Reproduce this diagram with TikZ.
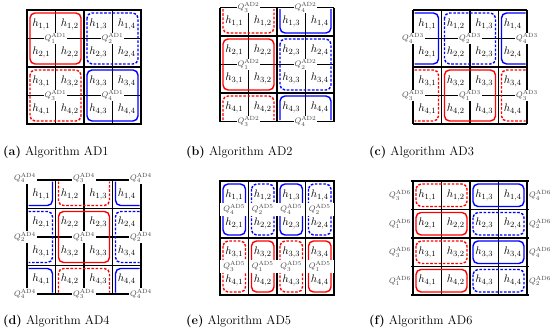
\documentclass[tikz,border=0pt]{standalone}
\usepackage{amsmath}
\usepackage{fontspec}
\newcommand\hcells[3]{\foreach \i in {1,...,4}{\foreach \j in {1,...,4}{\node[hlab] (#1h\i\j) at ({#2+(\j-0.5)*28.5},{#3+(\i-0.5)*28.5}) {$h_{\i,\j}$};}}}
\newcommand\mkq[5]{\node[qlab] (#1) at (#2,#3) {$Q_{#4}^{\mathrm{#5}}$};}
\newcommand\mkqe[5]{\node[qlab,minimum width=28pt,inner ysep=2pt] (#1) at (#2,#3) {$Q_{#4}^{\mathrm{#5}}$};}
\begin{document}
\begin{tikzpicture}[x=1pt,y=-1pt,
 blk/.style={line width=1.7pt,black},
 crs/.style={line width=1.3pt,black},
 thn/.style={line width=1.2pt,black},
 qlab/.style={fill=white,inner sep=1pt,text=black!72,font=\fontsize{8}{9.5}\selectfont},
 qout/.style={inner sep=0.5pt,text=black!72,font=\fontsize{8}{9.5}\selectfont},
 hlab/.style={inner sep=0pt,font=\fontsize{11}{13}\selectfont},
 col/.style={line width=1.4pt,rounded corners=5pt},
 rs/.style={col,draw=red},
 rd/.style={col,draw=red,dash pattern=on 2.6pt off 1.6pt},
 bs/.style={col,draw=blue},
 bd/.style={col,draw=blue,dash pattern=on 2.6pt off 1.6pt},
 capt/.style={anchor=base west,inner sep=0pt,font=\fontsize{12.5}{15}\selectfont}]
\useasboundingbox[fill=white] (0,0) rectangle (550,330);

% ---------- (a) ----------
\draw[crs] (55.5,10)--(55.5,124) (112.5,10)--(112.5,124) (27,38.5)--(141,38.5) (27,95.5)--(141,95.5);
\draw[blk] (27,10) rectangle (141,124) (84,10)--(84,124) (27,67)--(141,67);
\draw[rs] (30,13) rectangle (81,64);
\draw[bd] (87,13) rectangle (138,64);
\draw[rd] (30,70) rectangle (81,121);
\draw[bs] (87,70) rectangle (138,121);
\hcells{a}{27}{10}
\mkq{aq1}{55.5}{38.5}{1}{AD1}
\mkq{aq2}{112.5}{38.5}{2}{AD1}
\mkq{aq3}{55.5}{95.5}{3}{AD1}
\mkq{aq4}{112.5}{95.5}{4}{AD1}

% ---------- (b) ----------
\draw[crs] (248.5,7.5)--(248.5,121.5) (305.5,7.5)--(305.5,121.5)
  (220,7.5)--(334,7.5) (220,64.5)--(334,64.5) (220,121.5)--(334,121.5);
\draw[blk] (220,7.5)--(220,121.5) (277,7.5)--(277,121.5) (334,7.5)--(334,121.5)
  (220,36)--(334,36) (220,93)--(334,93);
\draw[rs] (223,39) rectangle (274,90);
\draw[bd] (280,39) rectangle (331,90);
\draw[rd] (223,9)--(223,33)--(274,33)--(274,9);
\draw[rd] (223,120)--(223,96)--(274,96)--(274,120);
\draw[bs] (280,9)--(280,33)--(331,33)--(331,9);
\draw[bs] (280,120)--(280,96)--(331,96)--(331,120);
\hcells{b}{220}{7.5}
\mkq{bq1}{248.5}{64.5}{1}{AD2}
\mkq{bq2}{305.5}{64.5}{2}{AD2}
\mkq{bq3t}{248.5}{7.5}{3}{AD2}
\mkq{bq4t}{305.5}{7.5}{4}{AD2}
\mkq{bq3b}{248.5}{121.5}{3}{AD2}
\mkq{bq4b}{305.5}{121.5}{4}{AD2}

% ---------- (c) ----------
\draw[crs] (413,10)--(413,124) (470,10)--(470,124) (527,10)--(527,124)
  (413,38.5)--(527,38.5) (413,95.5)--(527,95.5);
\draw[blk] (413,10)--(527,10) (413,67)--(527,67) (413,124)--(527,124)
  (441.5,10)--(441.5,124) (498.5,10)--(498.5,124);
\draw[bd] (444.5,13) rectangle (495.5,64);
\draw[rs] (444.5,70) rectangle (495.5,121);
\draw[bs] (414.5,13)--(438.5,13)--(438.5,64)--(414.5,64);
\draw[bs] (525.5,13)--(501.5,13)--(501.5,64)--(525.5,64);
\draw[rd] (414.5,70)--(438.5,70)--(438.5,121)--(414.5,121);
\draw[rd] (525.5,70)--(501.5,70)--(501.5,121)--(525.5,121);
\hcells{c}{413}{10}
\mkq{cq4l}{413}{38.5}{4}{AD3}
\mkq{cq2}{470}{38.5}{2}{AD3}
\mkq{cq4r}{527}{38.5}{4}{AD3}
\mkq{cq3l}{413}{95.5}{3}{AD3}
\mkq{cq1}{470}{95.5}{1}{AD3}
\mkq{cq3r}{527}{95.5}{3}{AD3}

% ---------- (d) ----------
\draw[crs] (27,180)--(27,294) (84,180)--(84,294) (141,180)--(141,294)
  (27,180)--(141,180) (27,237)--(141,237) (27,294)--(141,294);
\draw[blk] (55.5,180)--(55.5,294) (112.5,180)--(112.5,294)
  (27,208.5)--(141,208.5) (27,265.5)--(141,265.5);
\draw[rs] (58.5,211.5) rectangle (109.5,262.5);
\draw[bd] (28.5,211.5)--(52.5,211.5)--(52.5,262.5)--(28.5,262.5);
\draw[bd] (139.5,211.5)--(115.5,211.5)--(115.5,262.5)--(139.5,262.5);
\draw[rd] (58.5,181.5)--(58.5,205.5)--(109.5,205.5)--(109.5,181.5);
\draw[rd] (58.5,292.5)--(58.5,268.5)--(109.5,268.5)--(109.5,292.5);
\draw[bs] (28.5,205.5)--(52.5,205.5)--(52.5,181.5);
\draw[bs] (139.5,205.5)--(115.5,205.5)--(115.5,181.5);
\draw[bs] (28.5,268.5)--(52.5,268.5)--(52.5,292.5);
\draw[bs] (139.5,268.5)--(115.5,268.5)--(115.5,292.5);
\hcells{d}{27}{180}
\mkq{dq4a}{25}{178}{4}{AD4}
\mkq{dq3t}{84}{178}{3}{AD4}
\mkq{dq4b}{141}{178}{4}{AD4}
\mkq{dq2l}{25}{237}{2}{AD4}
\mkq{dq1}{84}{237}{1}{AD4}
\mkq{dq2r}{141}{237}{2}{AD4}
\mkq{dq4c}{25}{294}{4}{AD4}
\mkq{dq3b}{84}{294}{3}{AD4}
\mkq{dq4d}{141}{294}{4}{AD4}

% ---------- (e) ----------
\draw[thn] (248.5,181)--(248.5,295) (277,181)--(277,295) (305.5,181)--(305.5,295)
  (220,209.5)--(334,209.5) (220,266.5)--(334,266.5);
\draw[blk] (220,181) rectangle (334,295) (220,238)--(334,238);
\draw[bs] (223,184) rectangle (245.5,235);
\draw[bd] (251.5,184) rectangle (274,235);
\draw[bs] (280,184) rectangle (302.5,235);
\draw[bd] (308.5,184) rectangle (331,235);
\draw[rd] (223,241) rectangle (245.5,292);
\draw[rs] (251.5,241) rectangle (274,292);
\draw[rd] (280,241) rectangle (302.5,292);
\draw[rs] (308.5,241) rectangle (331,292);
\hcells{e}{220}{181}
\mkqe{eq4a}{234.25}{209.5}{4}{AD5}
\mkqe{eq2a}{262.75}{209.5}{2}{AD5}
\mkqe{eq4b}{291.25}{209.5}{4}{AD5}
\mkqe{eq2b}{319.75}{209.5}{2}{AD5}
\mkqe{eq3a}{234.25}{266.5}{3}{AD5}
\mkqe{eq1a}{262.75}{266.5}{1}{AD5}
\mkqe{eq3b}{291.25}{266.5}{3}{AD5}
\mkqe{eq1b}{319.75}{266.5}{1}{AD5}

% ---------- (f) ----------
\draw[thn] (441.5,181)--(441.5,295) (498.5,181)--(498.5,295);
\draw[blk] (413,181)--(413,295) (470,181)--(470,295) (527,181)--(527,295)
  (411,181)--(529,181) (411,209.5)--(529,209.5) (411,238)--(529,238)
  (411,266.5)--(529,266.5) (411,295)--(529,295);
\draw[rd] (416,184) rectangle (467,206.5);
\draw[bs] (473,184) rectangle (524,206.5);
\draw[rs] (416,212.5) rectangle (467,235);
\draw[bd] (473,212.5) rectangle (524,235);
\draw[rd] (416,241) rectangle (467,263.5);
\draw[bs] (473,241) rectangle (524,263.5);
\draw[rs] (416,269.5) rectangle (467,292);
\draw[bd] (473,269.5) rectangle (524,292);
\hcells{f}{413}{181}
\node[qout,anchor=east] (fq3a) at (411.5,195.25) {$Q_{3}^{\mathrm{AD6}}$};
\node[qout,anchor=east] (fq1a) at (411.5,223.75) {$Q_{1}^{\mathrm{AD6}}$};
\node[qout,anchor=east] (fq3b) at (411.5,252.25) {$Q_{3}^{\mathrm{AD6}}$};
\node[qout,anchor=east] (fq1b) at (411.5,280.75) {$Q_{1}^{\mathrm{AD6}}$};
\node[qout,anchor=west] (fq4a) at (528.5,195.25) {$Q_{4}^{\mathrm{AD6}}$};
\node[qout,anchor=west] (fq2a) at (528.5,223.75) {$Q_{2}^{\mathrm{AD6}}$};
\node[qout,anchor=west] (fq4b) at (528.5,252.25) {$Q_{4}^{\mathrm{AD6}}$};
\node[qout,anchor=west] (fq2b) at (528.5,280.75) {$Q_{2}^{\mathrm{AD6}}$};

% ---------- captions ----------
\node[capt] (capa) at (3,155) {\textbf{(a)} Algorithm AD1};
\node[capt] (capb) at (186,155) {\textbf{(b)} Algorithm AD2};
\node[capt] (capc) at (369,155) {\textbf{(c)} Algorithm AD3};
\node[capt] (capd) at (3,324) {\textbf{(d)} Algorithm AD4};
\node[capt] (cape) at (186,324) {\textbf{(e)} Algorithm AD5};
\node[capt] (capf) at (369,324) {\textbf{(f)} Algorithm AD6};
\end{tikzpicture}
\end{document}
